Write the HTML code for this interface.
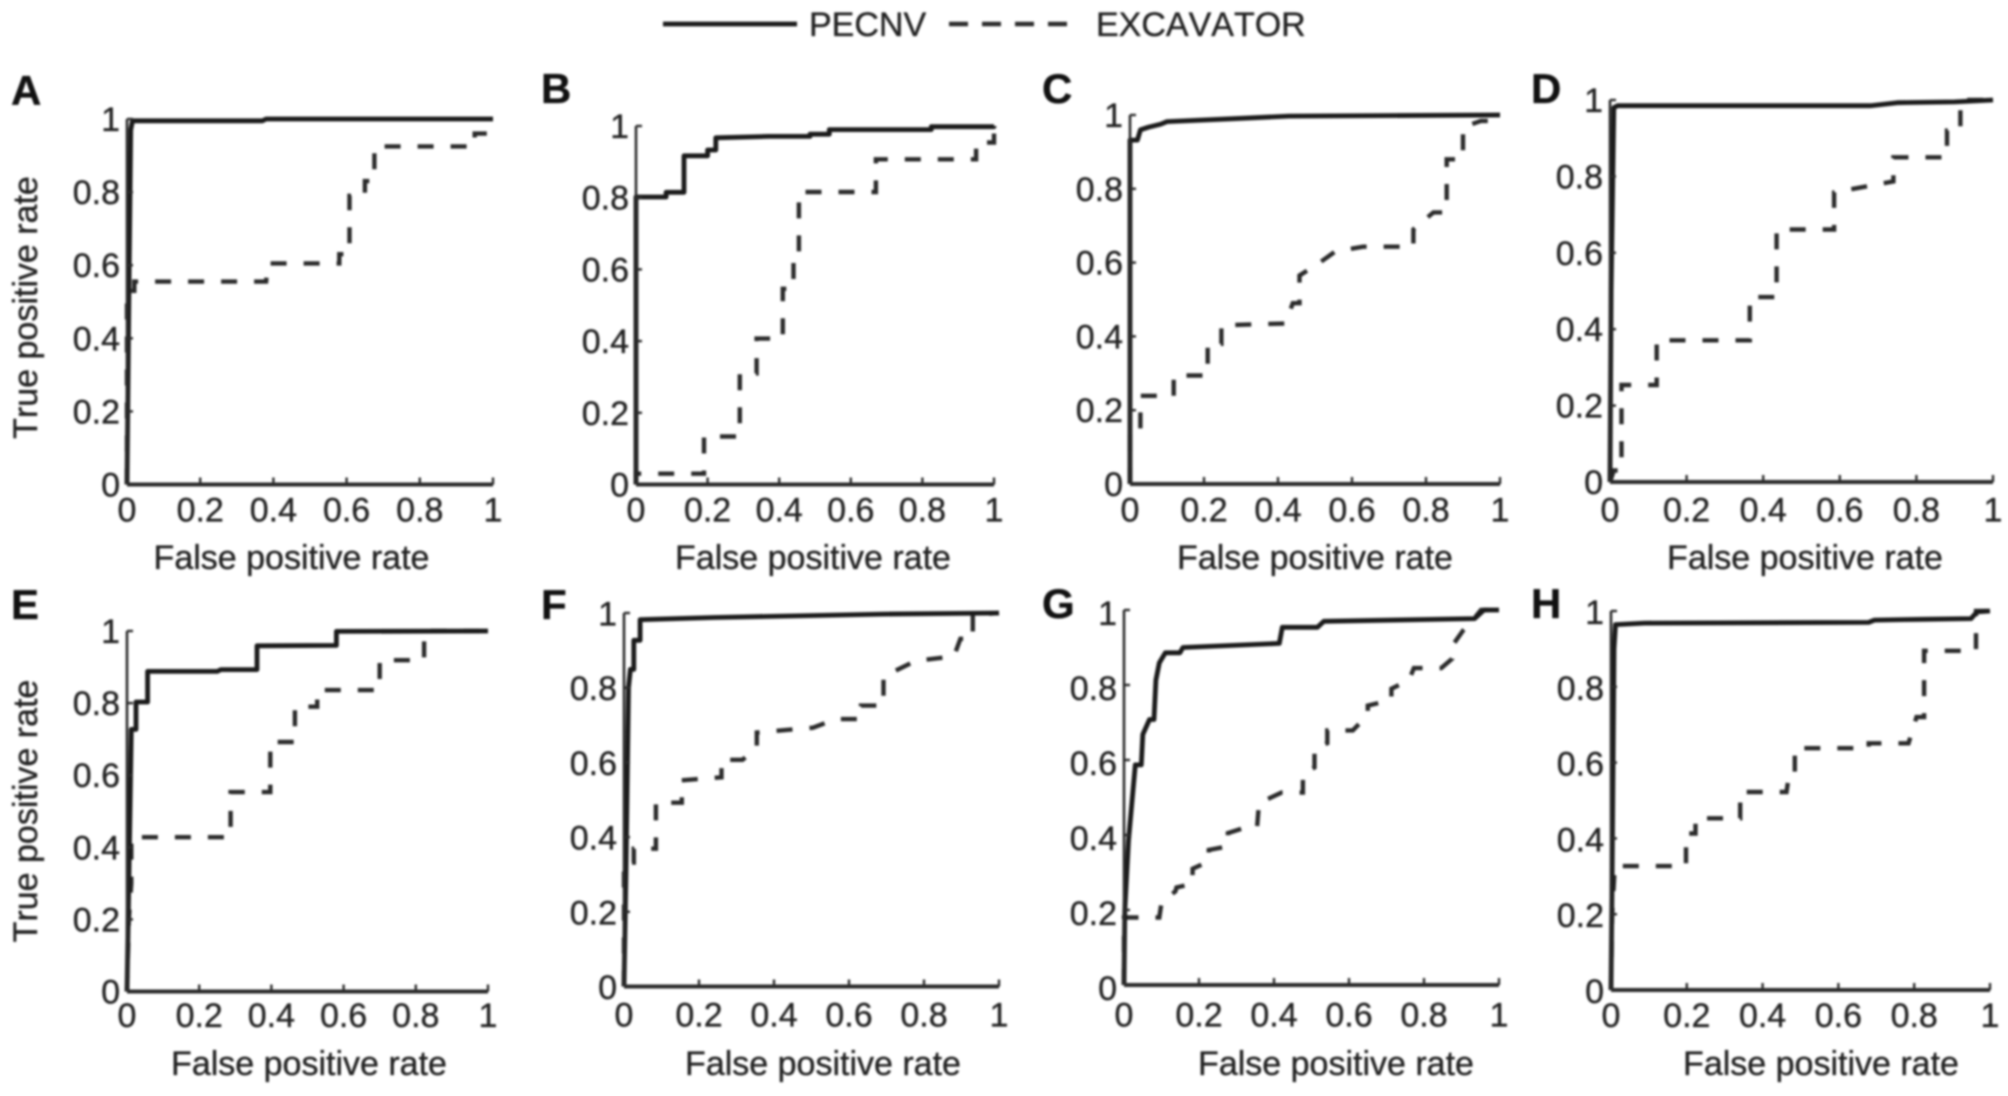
<!DOCTYPE html>
<html lang="en">
<head>
<meta charset="utf-8">
<title>ROC curves: PECNV vs EXCAVATOR</title>
<style>
html,body{margin:0;padding:0;background:#fff;width:2008px;height:1096px;overflow:hidden}
svg{display:block;filter:blur(1px)}
text{font-family:"Liberation Sans",Arial,sans-serif;fill:#222;stroke:#222;stroke-width:0.35px;font-kerning:none}
</style>
</head>
<body>
<svg id="chart" xmlns="http://www.w3.org/2000/svg" width="2008" height="1096" viewBox="0 0 2008 1096">
  <rect x="0" y="0" width="2008" height="1096" fill="#fff"/>
  <g>
    <line x1="663" y1="24" x2="797" y2="24" stroke="#1a1a1a" stroke-width="4.8"/>
    <text x="809" y="36" font-size="34">PECNV</text>
    <line x1="949" y1="24" x2="1068" y2="24" stroke="#2a2a2a" stroke-width="4.4" stroke-dasharray="19 14"/>
    <text x="1096" y="36" font-size="34">EXCAVATOR</text>
  </g>
</svg>
<script>
const xTickValues = [0, 0.2, 0.4, 0.6, 0.8, 1];
const yTickValues = [0, 0.2, 0.4, 0.6, 0.8, 1];
const tickLabels = ['0', '0.2', '0.4', '0.6', '0.8', '1'];
const xAxisTitle = 'False positive rate';
const yAxisTitle = 'True positive rate';

const fprPecnvA = [0, 0.005, 0.01, 0.015, 0.37, 0.38, 1];
const tprPecnvA = [0, 0.5, 0.97, 0.995, 0.995, 1, 1];
const fprExcavatorA = [0, 0, 0.02, 0.02, 0.38, 0.385, 0.58, 0.58, 0.608, 0.608, 0.65, 0.65, 0.676, 0.676, 0.95, 0.95, 1];
const tprExcavatorA = [0, 0.53, 0.53, 0.555, 0.555, 0.605, 0.605, 0.63, 0.63, 0.79, 0.79, 0.83, 0.83, 0.925, 0.925, 0.96, 0.96];

const fprPecnvB = [0, 0, 0.084, 0.084, 0.134, 0.134, 0.2, 0.2, 0.223, 0.223, 0.37, 0.486, 0.486, 0.54, 0.54, 0.825, 0.825, 1, 1];
const tprPecnvB = [0, 0.802, 0.802, 0.815, 0.815, 0.917, 0.917, 0.933, 0.933, 0.967, 0.971, 0.971, 0.977, 0.977, 0.99, 0.99, 0.998, 0.998, 1];
const fprExcavatorB = [0, 0, 0.19, 0.19, 0.29, 0.29, 0.337, 0.337, 0.41, 0.41, 0.44, 0.44, 0.455, 0.455, 0.67, 0.67, 0.95, 0.95, 1, 1];
const tprExcavatorB = [0, 0.03, 0.03, 0.134, 0.134, 0.31, 0.31, 0.407, 0.407, 0.546, 0.546, 0.62, 0.62, 0.816, 0.816, 0.907, 0.907, 0.954, 0.954, 1];

const fprPecnvC = [0, 0, 0.015, 0.02, 0.028, 0.05, 0.083, 0.1, 0.28, 0.43, 1];
const tprPecnvC = [0, 0.932, 0.932, 0.932, 0.96, 0.967, 0.975, 0.982, 0.99, 0.997, 1];
const fprExcavatorC = [0, 0, 0.028, 0.028, 0.118, 0.118, 0.21, 0.21, 0.247, 0.247, 0.42, 0.44, 0.458, 0.458, 0.51, 0.555, 0.63, 0.766, 0.766, 0.82, 0.856, 0.856, 0.9, 0.9, 0.948, 0.975, 0.975, 1];
const tprExcavatorC = [0, 0.15, 0.15, 0.239, 0.239, 0.294, 0.294, 0.38, 0.38, 0.43, 0.435, 0.49, 0.49, 0.565, 0.598, 0.63, 0.643, 0.643, 0.69, 0.736, 0.736, 0.88, 0.88, 0.967, 0.984, 0.984, 1, 1];

const fprPecnvD = [0, 0.003, 0.01, 0.02, 0.68, 0.75, 0.9, 1];
const tprPecnvD = [0, 0.5, 0.98, 0.985, 0.985, 0.993, 0.995, 1];
const fprExcavatorD = [0, 0.01, 0.03, 0.03, 0.122, 0.122, 0.365, 0.365, 0.435, 0.435, 0.585, 0.585, 0.74, 0.74, 0.88, 0.88, 0.915, 0.915, 1];
const tprExcavatorD = [0, 0.03, 0.03, 0.254, 0.254, 0.371, 0.371, 0.484, 0.484, 0.661, 0.661, 0.758, 0.787, 0.85, 0.85, 0.92, 0.92, 1, 1];

const fprPecnvE = [0, 0.005, 0.012, 0.025, 0.025, 0.057, 0.057, 0.25, 0.26, 0.36, 0.36, 0.58, 0.58, 1];
const tprPecnvE = [0, 0.3, 0.727, 0.727, 0.803, 0.803, 0.888, 0.888, 0.893, 0.893, 0.959, 0.96, 0.999, 1];
const fprExcavatorE = [0, 0.005, 0.012, 0.012, 0.287, 0.287, 0.397, 0.397, 0.465, 0.465, 0.527, 0.527, 0.7, 0.7, 0.823, 0.823, 1];
const tprExcavatorE = [0, 0.2, 0.3, 0.428, 0.428, 0.553, 0.553, 0.692, 0.692, 0.79, 0.79, 0.836, 0.836, 0.919, 0.919, 1, 1];

const fprPecnvF = [0, 0.005, 0.012, 0.017, 0.026, 0.026, 0.043, 0.043, 0.24, 0.69, 1];
const tprPecnvF = [0, 0.3, 0.8, 0.849, 0.849, 0.927, 0.927, 0.982, 0.988, 0.997, 1];
const fprExcavatorF = [0, 0, 0.026, 0.026, 0.085, 0.085, 0.154, 0.154, 0.26, 0.26, 0.316, 0.354, 0.354, 0.504, 0.564, 0.632, 0.632, 0.692, 0.692, 0.778, 0.88, 0.897, 0.93, 0.93, 1];
const tprExcavatorF = [0, 0.332, 0.332, 0.369, 0.369, 0.492, 0.492, 0.552, 0.56, 0.607, 0.607, 0.64, 0.68, 0.693, 0.716, 0.716, 0.752, 0.752, 0.83, 0.872, 0.884, 0.931, 0.931, 0.995, 1];

const fprPecnvG = [0, 0.002, 0.012, 0.03, 0.046, 0.05, 0.068, 0.08, 0.085, 0.094, 0.11, 0.149, 0.157, 0.414, 0.422, 0.516, 0.533, 0.935, 0.96, 1];
const tprPecnvG = [0, 0.2, 0.385, 0.587, 0.587, 0.668, 0.708, 0.708, 0.813, 0.859, 0.886, 0.886, 0.9, 0.911, 0.954, 0.954, 0.97, 0.977, 1, 1];
const fprExcavatorG = [0, 0, 0.094, 0.1, 0.137, 0.14, 0.183, 0.183, 0.226, 0.226, 0.277, 0.277, 0.33, 0.355, 0.36, 0.42, 0.477, 0.477, 0.508, 0.508, 0.542, 0.542, 0.61, 0.65, 0.65, 0.713, 0.713, 0.76, 0.773, 0.846, 0.875, 0.875, 0.904, 0.926, 0.952, 1];
const tprExcavatorG = [0, 0.18, 0.18, 0.22, 0.25, 0.26, 0.27, 0.31, 0.33, 0.36, 0.37, 0.405, 0.422, 0.422, 0.485, 0.513, 0.513, 0.563, 0.58, 0.631, 0.645, 0.679, 0.679, 0.72, 0.745, 0.76, 0.79, 0.813, 0.845, 0.845, 0.87, 0.904, 0.945, 0.968, 1, 1];

const fprPecnvH = [0, 0.003, 0.008, 0.012, 0.088, 0.68, 0.695, 0.823, 0.95, 0.966, 1];
const tprPecnvH = [0, 0.3, 0.9, 0.964, 0.968, 0.97, 0.976, 0.978, 0.98, 0.998, 1];
const fprExcavatorH = [0, 0.003, 0.01, 0.198, 0.198, 0.223, 0.223, 0.341, 0.341, 0.463, 0.47, 0.485, 0.485, 0.68, 0.68, 0.785, 0.806, 0.826, 0.826, 0.84, 0.963, 0.963, 1];
const tprExcavatorH = [0, 0.2, 0.327, 0.327, 0.413, 0.413, 0.453, 0.453, 0.5225, 0.5225, 0.57, 0.57, 0.638, 0.638, 0.651, 0.651, 0.72, 0.72, 0.895, 0.895, 0.895, 1, 1];

const panelLetters = ['A', 'B', 'C', 'D', 'E', 'F', 'G', 'H'];
const pecnvFpr = [fprPecnvA, fprPecnvB, fprPecnvC, fprPecnvD, fprPecnvE, fprPecnvF, fprPecnvG, fprPecnvH];
const pecnvTpr = [tprPecnvA, tprPecnvB, tprPecnvC, tprPecnvD, tprPecnvE, tprPecnvF, tprPecnvG, tprPecnvH];
const excavatorFpr = [fprExcavatorA, fprExcavatorB, fprExcavatorC, fprExcavatorD, fprExcavatorE, fprExcavatorF, fprExcavatorG, fprExcavatorH];
const excavatorTpr = [tprExcavatorA, tprExcavatorB, tprExcavatorC, tprExcavatorD, tprExcavatorE, tprExcavatorF, tprExcavatorG, tprExcavatorH];

/* Panel frames, in page pixels: left, right, top (y=1), bottom (y=0), plus label offsets */
const frames = [
  {l:127,  r:493,  t:119, b:484.5, lx:11,   ly:105, tx:291.5, ty:569,  xo:37, yo:12, ytc:307.5},
  {l:636,  r:994,  t:126, b:484.5, lx:541,  ly:103, tx:813,   ty:569,  xo:37, yo:12},
  {l:1130, r:1500, t:115, b:484,   lx:1042, ly:103, tx:1315,  ty:569,  xo:37.5, yo:12},
  {l:1610, r:1993, t:100, b:482,   lx:1531, ly:103, tx:1805,  ty:569,  xo:39.5, yo:12},
  {l:127,  r:488,  t:631, b:991.5, lx:11,   ly:619, tx:309,   ty:1075, xo:35.5, yo:12, ytc:811},
  {l:624,  r:999,  t:613, b:986.5, lx:541,  ly:619, tx:823,   ty:1075, xo:40, yo:12.5},
  {l:1124, r:1499, t:610, b:985,   lx:1042, ly:618, tx:1336,  ty:1075, xo:41.5, yo:15},
  {l:1611, r:1990, t:611, b:990,   lx:1531, ly:618, tx:1821,  ty:1075, xo:37, yo:13}
];

const NS = 'http://www.w3.org/2000/svg';
const svg = document.getElementById('chart');

function make(tag, parent, attrs, content) {
  const el = document.createElementNS(NS, tag);
  for (const k in attrs) el.setAttribute(k, attrs[k]);
  if (content !== undefined) el.textContent = content;
  parent.appendChild(el);
  return el;
}
function xScale(f, v) { return f.l + (f.r - f.l) * v; }
function yScale(f, v) { return f.b - (f.b - f.t) * v; }
function linePath(f, xs, ys) {
  return xs.map((x, i) => (i ? 'L' : 'M') + xScale(f, x).toFixed(1) + ' ' + yScale(f, ys[i]).toFixed(1)).join(' ');
}

frames.forEach((f, i) => {
  const letter = panelLetters[i];
  const g = make('g', svg, {});
  
  

  const lab = make('text', g, {x: f.lx, y: f.ly, 'font-size': 42, 'font-weight': 'bold', style: 'fill:#111;stroke:#111'}, letter);
  
  

  const excavator = make('path', g, {d: linePath(f, excavatorFpr[i], excavatorTpr[i]), fill: 'none', stroke: '#2a2a2a', 'stroke-width': 4.4, 'stroke-dasharray': '16 17'});
  
  

  const pecnv = make('path', g, {d: linePath(f, pecnvFpr[i], pecnvTpr[i]), fill: 'none', stroke: '#1a1a1a', 'stroke-width': 4.8, 'stroke-linejoin': 'round'});
  
  

  const yAxis = make('line', g, {x1: f.l, y1: f.t, x2: f.l, y2: f.b, stroke: '#2a2a2a', 'stroke-width': 2.6});
  
  

  const xAxis = make('line', g, {x1: f.l, y1: f.b, x2: f.r, y2: f.b, stroke: '#2a2a2a', 'stroke-width': 4});
  
  

  xTickValues.forEach((v, j) => {
    const x = xScale(f, v);
    const tick = make('line', g, {x1: x, y1: f.b, x2: x, y2: f.b - 7, stroke: '#2a2a2a', 'stroke-width': 2.4});
    
    
    const t = make('text', g, {x: x, y: f.b + f.xo, 'font-size': 34, 'text-anchor': 'middle'}, tickLabels[j]);
    
    
  });

  yTickValues.forEach((v, j) => {
    const y = yScale(f, v);
    const tick = make('line', g, {x1: f.l, y1: y, x2: f.l + 6, y2: y, stroke: '#2a2a2a', 'stroke-width': 2.4});
    
    
    const t = make('text', g, {x: f.l - 7, y: y + f.yo, 'font-size': 34, 'text-anchor': 'end'}, tickLabels[j]);
    
    
  });

  const xTitle = make('text', g, {x: f.tx, y: f.ty, 'font-size': 34, 'text-anchor': 'middle'}, xAxisTitle);
  
  

  if (f.ytc) {
    const yTitle = make('text', g, {x: 0, y: 0, 'font-size': 34, 'text-anchor': 'middle', transform: 'translate(37 ' + f.ytc + ') rotate(-90)'}, yAxisTitle);
    
    
  }
});
</script>
</body>
</html>
